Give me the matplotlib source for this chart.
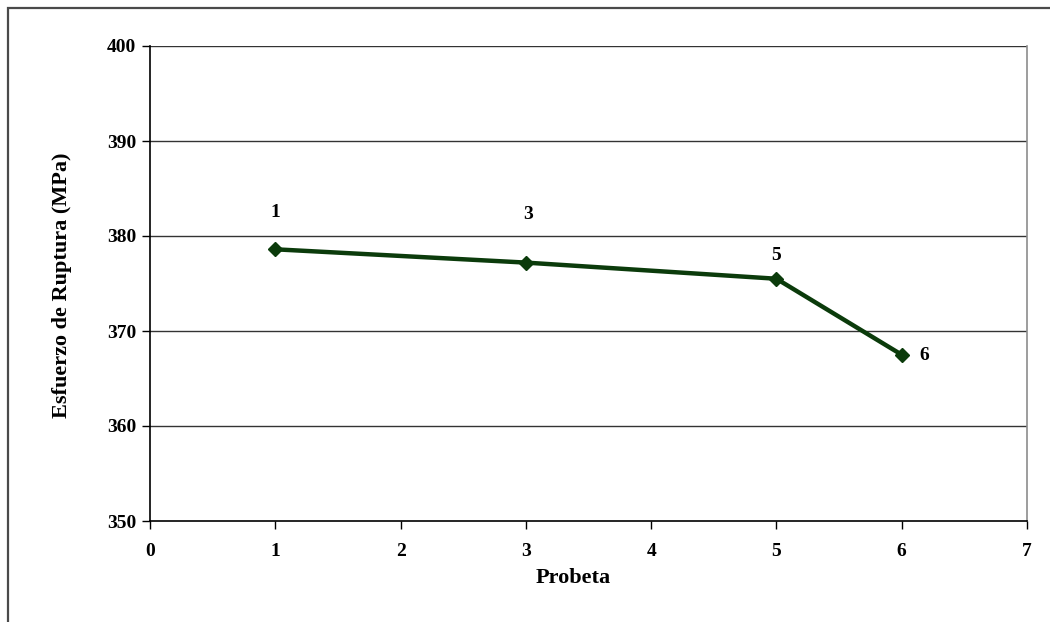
import matplotlib
matplotlib.use("Agg")
import matplotlib.pyplot as plt
from matplotlib.patches import Rectangle

# Specimen numbers and rupture stress (MPa)
probeta = [1, 3, 5, 6]
esfuerzo = [378.6, 377.2, 375.5, 367.5]
point_labels = ["1", "3", "5", "6"]

x_ticks = [0, 1, 2, 3, 4, 5, 6, 7]
y_ticks = [350, 360, 370, 380, 390, 400]

plt.rcParams["font.family"] = ["Liberation Serif", "DejaVu Serif"]
plt.rcParams["font.weight"] = "bold"

fig = plt.figure(figsize=(10.5, 6.22), dpi=100)
fig.patch.set_facecolor("white")

# outer chart frame
fig.add_artist(Rectangle((8 / 1050, -0.2), 1.5, 1 - 8 / 622 + 0.2,
                         transform=fig.transFigure, fill=False,
                         edgecolor="#4a4a4a", linewidth=1.6, zorder=0))

ax = fig.add_axes([150 / 1050, 1 - 521 / 622, 877 / 1050, 475 / 622])
ax.set_xlim(0, 7)
ax.set_ylim(350, 400)
ax.set_xticks(x_ticks)
ax.set_yticks(y_ticks)
ax.set_xticklabels([str(v) for v in x_ticks], fontsize=14, fontweight="bold")
ax.set_yticklabels([str(v) for v in y_ticks], fontsize=14, fontweight="bold")

for v in y_ticks[1:]:
    ax.axhline(v, color="#333333", linewidth=1.0, zorder=1)

for side in ["left", "bottom"]:
    ax.spines[side].set_color("black")
    ax.spines[side].set_linewidth(1.2)
ax.spines["right"].set_color("#8c8c8c")
ax.spines["right"].set_linewidth(1.2)
ax.spines["top"].set_visible(False)

ax.tick_params(axis="both", direction="out", length=6, width=1.0, color="black")
ax.tick_params(axis="y", pad=4)
ax.tick_params(axis="x", pad=10)

ax.plot(probeta, esfuerzo, color="#0b3b0b", linewidth=3.2, marker="D",
        markersize=7.5, markerfacecolor="#0b3b0b", markeredgecolor="#0b3b0b",
        zorder=3)

offsets = [(0, 26.5), (1.5, 34.5), (0, 16.5), (16, -0.7)]
for xv, yv, lab, off in zip(probeta, esfuerzo, point_labels, offsets):
    ax.annotate(lab, (xv, yv), xytext=off, textcoords="offset points",
                ha="center", va="center", fontsize=14, fontweight="bold")

ax.set_xlabel("Probeta", fontsize=16, fontweight="bold")
ax.set_ylabel("Esfuerzo de Ruptura (MPa)", fontsize=16, fontweight="bold")
ax.xaxis.set_label_coords((573 - 150) / 877, -(578 - 521) / 475)
ax.xaxis.label.set_va("center")
ax.yaxis.set_label_coords(-(150 - 62) / 877, (521 - 285) / 475)
ax.yaxis.label.set_va("center")

fig.savefig("out.png", dpi=100, facecolor="white")
